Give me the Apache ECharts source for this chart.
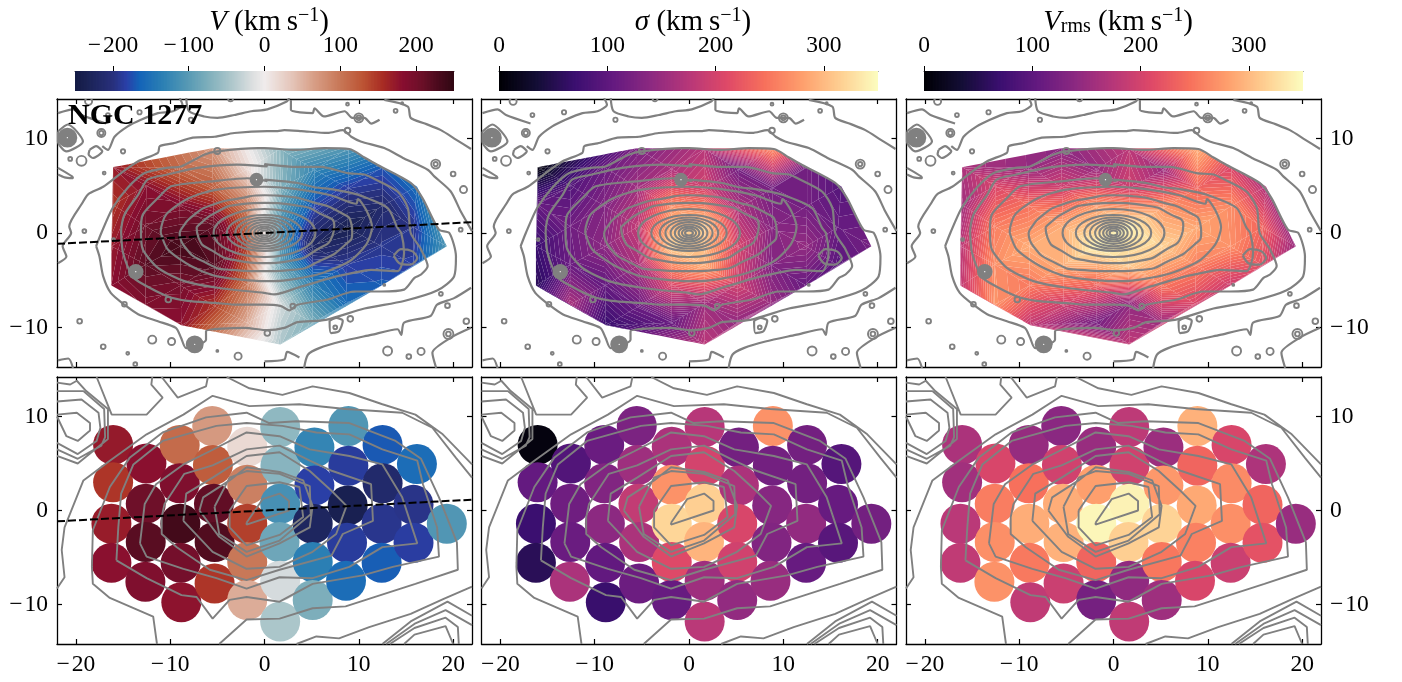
<!DOCTYPE html>
<html><head><meta charset="utf-8"><style>html,body{margin:0;background:#fff}#c{width:1402px;height:682px}</style>
<script src="https://cdn.jsdelivr.net/npm/echarts@6/dist/echarts.min.js"></script></head><body><div id="c"></div>
<script>
const binX=[-16.05,-16.05,-16.23,-16.23,-12.52,-12.59,-12.59,-12.63,-8.99,-8.99,-8.92,-8.89,-8.82,-5.54,-5.47,-5.36,-5.29,-5.29,-1.83,-1.83,-1.83,-1.83,-1.83,1.66,1.69,1.66,1.59,1.66,1.66,5.29,5.29,5.11,5.11,5.11,8.89,8.89,8.82,8.75,8.64,12.52,12.52,12.42,12.42,16.16,15.8,15.8,19.33];
const binY=[6.98,3.0,-1.41,-5.57,5.01,.71,-3.35,-7.58,6.98,2.89,-1.41,-5.57,-9.77,8.99,4.83,.71,-3.35,-7.76,6.77,2.75,-1.41,-5.47,-9.52,8.89,4.76,.71,-3.35,-7.48,-11.82,6.7,2.65,-1.41,-5.47,-9.52,8.99,4.76,.53,-3.42,-7.48,6.98,2.89,-1.41,-5.57,4.94,.6,-3.42,-1.41];
const velocity=[172,150,170,180,180,205,220,190,110,190,235,200,178,70,122,215,225,150,18,92,143,99,55,-63,-68,-113,-85,-20,-45,-128,-183,-225,-135,-75,-105,-187,-238,-187,-155,-170,-215,-193,-168,-155,-195,-185,-105];
const sigma=[8,105,70,55,90,115,110,165,110,130,140,103,68,125,155,185,165,112,165,270,320,210,108,175,200,315,295,155,178,118,165,205,197,145,270,118,135,130,150,118,118,145,108,92,108,95,118];
const vrms=[165,157,178,183,205,255,268,270,147,245,290,252,183,138,197,290,293,192,150,280,345,235,120,180,197,342,315,143,183,152,275,318,250,155,293,235,287,258,205,205,265,268,192,167,235,218,150];
const vStops=[[-250,'#141a44'],[-231,'#1c2458'],[-200,'#28307c'],[-182,'#2a40a8'],[-165,'#1464b8'],[-134,'#2c80b4'],[-103,'#5498b4'],[-73,'#80b0bc'],[-42,'#b0c8cc'],[-16,'#dcdfe0'],[0,'#f0ecec'],[37,'#e4c4b8'],[64,'#d8a088'],[99,'#c87858'],[130,'#bc5434'],[156,'#a82c24'],[182,'#880e30'],[209,'#6a1028'],[231,'#480a1c'],[250,'#300812']];
const magmaStops=[[0,'#000004'],[35,'#140e36'],[70,'#3b0f70'],[105,'#641a80'],[140,'#8c2981'],[175,'#b73779'],[210,'#de4968'],[245,'#f7705c'],[280,'#fe9f6d'],[315,'#fecf92'],[350,'#fcfdbf']];
const xTicks=[-20,-10,0,10,20], yTicks=[-10,0,10], vTicks=[-200,-100,0,100,200], sTicks=[0,100,200,300];
const paLine=[[-22,-1.15],[22,1.15]];
// contours of the upper row (arcsec)
const topOpen=[
[[-21.9,12.7],[-20.3,13.1],[-19.4,12.5],[-16.8,11.6]],
[[-17.2,9.2],[-16.6,8.8],[-15.9,10.2],[-14.5,11.3],[-13.1,12],[-11.3,12.7],[-9.7,12.9],[-8.7,13.6],[-9,14.3]],
[[-8.3,14.3],[-8,12.9],[-6.4,12.35],[-5,12.2],[-3.2,12.5],[-1.4,12.9],[.3,13.1],[2.3,13.9],[2.65,14.3]],
[[2.8,14.1],[2.8,13.05],[5.1,12.7],[5.3,13.2],[6.3,12.35],[8.5,12.9],[9.3,12.2],[10.6,12.2],[11.3,11.6],[12.2,12]],
[[12.7,14.1],[15.2,13.4],[15.5,12.2],[17,11.6],[18.7,10.9],[20.3,9.9],[21.9,8.9]],
[[-21.9,-3.2],[-21,-2.5],[-21.4,-1.4],[-20.5,0],[-20.7,.7],[-19.3,3.2],[-18.7,4.1],[-17.1,4.9],[-15.2,6.35],[-13.4,7.6],[-11.3,8.5],[-11.1,9.2],[-9.7,9.5],[-7.6,10.1],[-5.3,10.2],[-3.2,10.6],[.3,10.8],[1.4,10.8],[2.1,10.9],[3.9,10.8],[6.7,10.6],[8.3,10.9],[9.2,10.2],[10.2,9.7],[12.7,9],[14.8,7.9],[17.3,6.7],[18,6],[19.75,4.4],[20.8,2.3],[22,.2]],
[[21.9,-5.8],[20.1,-6.9],[18.3,-7.6],[17.6,-8.8],[14.8,-9.5],[14.5,-10.8],[14.1,-10.2],[11.3,-10.8],[8.1,-11.5],[5.8,-12.2],[4.6,-12.9],[4.2,-14.3]],
[[0,-13.6],[2.1,-13.4],[2.4,-12.6],[3.7,-13.2]],
[[18.2,-14.3],[17.8,-12.7],[19.75,-11.1],[21.9,-10.05]],
[[-21.9,6.9],[-20.4,6],[-20.3,5.8],[-21.2,5.9],[-21.9,6.2]],
[[-21.9,-13.5],[-20.8,-13.3],[-20.3,-14.3]]
];
const topClosed=[
[[-17.85,-1.4],[-17.5,-2.5],[-17.1,-4.6],[-16.3,-6.35],[-14.85,-7.6],[-13.4,-8.6],[-11.3,-9.35],[-9.4,-10.05],[-8.85,-11.1],[-8.3,-12.2],[-6.2,-11.3],[-6.2,-10.4],[-2.1,-10.05],[.3,-10.3],[2.1,-10.05],[3.5,-9.45],[6.5,-9.2],[10.6,-8],[14.8,-7.2],[18.3,-6.1],[20.1,-4.6],[20.3,-2.5],[19.6,0],[18.5,.35],[16.75,3.7],[15.5,5.3],[12,7.2],[10.6,8],[9,8.9],[6.35,9],[3.2,8.8],[0,9],[-.7,9],[-5,8.65],[-6.4,8.3],[-8.85,7.05],[-10.4,6.9],[-12.7,6.35],[-14.5,4.8],[-16.1,2.65],[-17.3,0]],
[[-15.2,0],[-15,-2.1],[-14,-4.6],[-13.1,-5.3],[-10.3,-6.7],[-8.15,-7.2],[-5.3,-7.4],[-2.85,-7.6],[-.05,-7.6],[1.75,-7.75],[2.65,-8.2],[3.5,-7.6],[6.7,-7.05],[9.5,-6.2],[12.35,-6.2],[14.8,-6],[15.9,-4.75],[16.6,-4.4],[17.3,-3.5],[16.6,-1.75],[15.5,0],[15.2,2.65],[14.1,4.4],[11.3,5.9],[10.6,6.2],[8.8,6.35],[6,7],[3.5,7],[0,7.3],[.3,7.05],[-2.85,7.25],[-7.1,6.9],[-10.3,6.2],[-12.4,5.65],[-13.4,4.05],[-14.85,1.95],[-15.2,.2]],
[[-13.1,0],[-12.9,-1.75],[-11.3,-3.7],[-8.5,-5.1],[-5,-5.8],[-.05,-6.35],[1.05,-6.5],[3.5,-5.8],[7.05,-4.75],[9.5,-4.2],[11.3,-3.9],[14.1,-4.05],[14.8,-2.1],[14.5,0],[14.1,.55],[13.05,2.65],[9.9,4.05],[7.4,4.6],[5.3,4.85],[3.5,5.3],[0,5.65],[.3,5.5],[-1.8,5.8],[-5.3,5.5],[-9.9,4.95],[-11.3,3.7],[-12.9,1.95],[-13.1,.2]],
[[-11,0],[-10.25,-1.75],[-7.8,-3.5],[-5,-4.6],[-.05,-5.1],[1,-5.1],[5.6,-4.4],[9,-3],[10.8,-1.2],[11.4,.6],[10.8,2.4],[9.9,3.6],[9.75,3.1],[7,4],[3,4.7],[0,4.9],[-5,4.6],[-8,3.7],[-10.4,2],[-11,.2]],
[[13.7,-2.4],[14.45,-1.7],[15.7,-1.95],[16.2,-2.65],[15.5,-3.35],[14.3,-3.2]],
[[-21.9,10.75],[-20.85,11.5],[-19.25,9.7],[-21,8.65],[-21.9,9.7]],
[[-18.55,8.8],[-17.85,9.2],[-17.2,8.65],[-18.2,7.95],[-18.65,8.35]],
[[6.9,-9.3],[7.05,-10.6],[7.9,-10.4],[8.3,-9.3],[7.6,-9]]
];
const topEllipses=[
[[-9,0],[-8.5,-1.4],[-6.1,-3.2],[-3.6,-3.9],[0,-4.05],[3,-3.9],[6,-2.9],[8.5,-1.3],[9.3,0],[9.2,1],[8,2.2],[5,3.3],[2,3.9],[0,4],[-2.5,3.7],[-5.5,3],[-7.5,1.9],[-8.7,.6]],
[[-7.2,.6],[-7,-.5],[-5.5,-1.9],[-3,-2.9],[0,-3.2],[3,-2.9],[5.5,-1.8],[7.2,-.3],[7.4,.8],[6,2],[3.5,2.9],[0,3.2],[-2.8,3],[-5.3,2.1],[-6.8,1]]
];
// nuclear isophotes: semi-axes along x and y (arcsec)
const nuclearRx=[5.4,4,3.1,2.5,1.95,1.5,1.1,.75,.42];
const nuclearRy=[2.55,1.9,1.65,1.4,1.15,.9,.68,.47,.27];
// small rings: x, y, diameter (arcsec)
const rings=[[-14.85,-7.55,.5],[-19.6,-9.35,.5],[-17.1,-12.05,.5],[-14.5,-12.75,.3],[-11.9,-11.3,.85],[-9.85,-11.5,.75],[-5,-12.5,.2],[-2.8,-13.05,.75],[-13.7,-13.9,.4],[-10.2,-7.05,.6],[-16,-.7,.3],[.3,-10.6,.6],[13.05,-12.5,.95],[15.3,-13.1,.5],[16.6,-12.55,.75],[19.5,-10.7,1.05],[19.5,-10.7,.5],[21.4,-9.35,.6],[19.4,-7.7,.5],[18.7,-6.45,.4],[9.1,-9.1,.6],[7.5,-10,.4],[12.7,-5.5,.2],[3,-7.75,.5],[10,12.2,.95],[10,12.2,.5],[8.8,13.65,.3],[13.9,12.95,.4],[14.6,13.75,.2],[8.8,10.85,.6],[18.15,7.3,.95],[18.15,7.3,.45],[20,6.25,.5],[21.1,4.6,.75],[20.8,.35,.4],[-18.65,13.95,.75],[-16.6,12.5,.4],[-13.25,12.8,.45],[-7.8,12,.45],[-17.3,10.6,.85],[-17.3,10.6,.45],[-15,8.65,.45],[-20.6,7.85,.4],[-19.4,7.65,1.05],[-17,6.35,.3],[-5,8.7,.65],[-19.1,.2,.4],[-3.6,14.2,.5]];
const stars=[[-20.9,10.1,2.1],[-.85,5.65,1.45],[-13.65,-4.1,1.65],[-7.4,-11.8,1.9]];
// contours of the lower row (arcsec)
const lowContours=[
[[-18.3,-6],[-18.2,-2.1],[-16.4,2.5],[-14.3,5.6],[-10.8,8.3],[-6.2,9.9],[-1.9,10.4],[.5,9.3],[3.4,9.5],[9,9.3],[13.9,7.4],[16.6,5.5],[18.5,1.4],[20.4,-3.4],[20.5,-6.3],[16,-7.8],[8.6,-10.2],[5.1,-10.4],[1.6,-11.5],[-1.9,-11.6],[-4.8,-14.2]],
[[-18.3,-6],[-18.2,-7.8],[-16.4,-9.3],[-11.8,-11.3],[-11.4,-14.2]],
[[-22,-8.3],[-21.2,-7.1],[-21.5,-4.2],[-21.2,-1.8],[-19.2,3.2],[-16.4,5.3],[-12.5,8.1],[-8.6,10.2],[-5.5,12.2],[-1.6,11.1],[3.7,11.3],[8.6,10.8],[14.6,10.4],[17.8,8.8],[20.3,5.6],[22,3.5]],
[[-4,14.2],[-1.6,13],[1.9,12.3],[5.1,13.2],[9,12.5],[12.5,11.3],[16,10.2],[18.9,8.1],[22,4.9]],
[[-15.7,-5.3],[-15.5,-1.8],[-15.2,1.8],[-13.9,4.9],[-10.8,7.4],[-5.1,9],[-1.9,9.3],[1.9,9],[5.5,8.3],[9,8.1],[12.5,6.5],[16.2,5.3],[16.8,2.8],[18.3,-1.8],[18.5,-4.9],[13.6,-6],[10.4,-6.9],[5.1,-7.8],[1.6,-9.7],[-1.9,-9.2],[-3.7,-9.5],[-5.5,-11.5],[-7.2,-9.2],[-8.8,-9],[-12.5,-7.2],[-15.7,-5.3]],
[[-13.2,-3.5],[-12.7,.7],[-11.5,2.8],[-8.6,4.9],[-5.8,6.3],[-1.9,8.3],[1.6,7.9],[4.8,6.5],[9,5.8],[12.5,4.9],[14.6,1.4],[16.2,-3.5],[12.5,-3.9],[9,-6],[5.1,-7.2],[1.6,-7.1],[-1.9,-8.3],[-5.1,-7.2],[-8.6,-6.2],[-12.5,-4.9],[-13.2,-3.5]],
[[-10.9,-.7],[-10.6,.7],[-8.5,3.9],[-5.5,4.8],[-1.9,6.5],[1.6,6.9],[4.8,5.3],[7.2,4.2],[11.3,2.8],[11.5,-1.1],[8.3,-2.5],[7.1,-4.8],[1.6,-6.3],[-1.9,-7.4],[-5.8,-6.3],[-9.3,-3.9],[-10.9,-2.5],[-10.9,-.7]],
[[-8.6,-1.1],[-8.3,1.8],[-5.5,3.5],[-1.9,5.8],[1.6,6.2],[4.8,4.2],[7.1,2.1],[8.7,.5],[7.6,-2.5],[5.1,-4.4],[1.6,-6],[-1.9,-6.2],[-5.5,-4.4],[-8.6,-1.1]],
[[-6.9,0],[-6.5,1.4],[-3.7,3.2],[-1.9,4.6],[1.6,4.1],[4.1,3.2],[5.1,.5],[4.8,-1.8],[1.6,-3.5],[-1.9,-4.9],[-4.8,-2.8],[-6.9,0]],
[[-5.3,.4],[-3.7,3.5],[-1.9,4.2],[1.6,3.9],[4.8,2.6],[4.9,-.4],[1.6,-3.2],[-1.9,-4.4],[-4.8,-2.5],[-5.3,.4]],
[[-3.7,0],[-1.9,2.6],[1.6,3],[3.7,2.5],[4.1,-.7],[1.6,-2.6],[-1.9,-3.7],[-3.7,-1.8],[-3.7,0]],
[[-1.9,-1.3],[-.2,1.2],[1.6,1.8],[2.6,1],[2.6,0],[-1.9,-1.5],[-1.9,-1.3]],
[[-22,10.2],[-19.9,10.4],[-18.5,9.3],[-18.5,8.5],[-19.8,7.4],[-21,7.9],[-22,10]],
[[-22,11.6],[-19.4,11.8],[-17.6,10.4],[-17.4,8.8],[-17.8,7.4],[-19.8,6],[-22,7.2]],
[[-22,12.7],[-19.2,12.7],[-17,10.8],[-16.9,7.8],[-17.3,6.9],[-19.8,5.5],[-22,6.5]],
[[-22,13.6],[-20.6,13.4],[-19.9,13.8],[-18.9,12.7],[-16.6,10.8],[-16.6,7.6],[-19.8,5],[-22,5.8]],
[[-17.8,14.2],[-16.2,10.2],[-12.5,10.2],[-10.8,12],[-12,13.4],[-11.9,14.2]],
[[-10.9,14.2],[-9.2,12],[-6.2,13.2],[-6,14.2]],
[[3.4,-14.2],[5.5,-13.4],[7.9,-13.6],[11.1,-12.4],[15.5,-11],[19,-9.4],[22,-8.1]],
[[12.5,-14.2],[15.5,-11.8],[19.4,-9.7],[22,-11.2]],
[[12.9,-14.2],[16,-12],[19.2,-10.6],[22,-12.2]],
[[13.3,-14.2],[15.9,-12.5],[19.2,-11.4],[20.5,-12.4],[20.6,-14.2]],
[[14.8,-14.2],[15.9,-13.2],[19.2,-12.3],[20,-14.2]]
];

const SERIF='"Liberation Serif","DejaVu Serif",serif', GRAY='#808080', NB=64;
function hex(c){return [1,3,5].map(i=>parseInt(c.substr(i,2),16));}
function cmap(stops,v){
  if(v<=stops[0][0])return stops[0][1];
  for(let i=1;i<stops.length;i++){if(v<=stops[i][0]){
    const t=(v-stops[i-1][0])/(stops[i][0]-stops[i-1][0]),a=hex(stops[i-1][1]),b=hex(stops[i][1]);
    return 'rgb('+a.map((x,j)=>Math.round(x+(b[j]-x)*t)).join(',')+')';}}
  return stops[stops.length-1][1];
}
// Delaunay triangulation of the bin centres
const triangles=[];
(function(){const n=binX.length;
for(let i=0;i<n;i++)for(let j=i+1;j<n;j++)for(let k=j+1;k<n;k++){
  const ax=binX[i],ay=binY[i],bx=binX[j],by=binY[j],cx=binX[k],cy=binY[k];
  const d=2*(ax*(by-cy)+bx*(cy-ay)+cx*(ay-by)); if(Math.abs(d)<1e-6)continue;
  const a2=ax*ax+ay*ay,b2=bx*bx+by*by,c2=cx*cx+cy*cy;
  const ux=(a2*(by-cy)+b2*(cy-ay)+c2*(ay-by))/d,uy=(a2*(cx-bx)+b2*(ax-cx)+c2*(bx-ax))/d;
  const r2=(ax-ux)**2+(ay-uy)**2; let ok=true;
  for(let m=0;m<n&&ok;m++){if(m===i||m===j||m===k)continue;
    if((binX[m]-ux)**2+(binY[m]-uy)**2<r2-1e-9)ok=false;}
  if(ok)triangles.push([i,j,k]);
}})();
function clipBand(poly,lev,above){const out=[];
  for(let i=0;i<poly.length;i++){const p=poly[i],q=poly[(i+1)%poly.length];
    const pi=above?p[2]>=lev:p[2]<=lev, qi=above?q[2]>=lev:q[2]<=lev;
    if(pi)out.push(p);
    if(pi!==qi){const t=(lev-p[2])/(q[2]-p[2]);out.push([p[0]+(q[0]-p[0])*t,p[1]+(q[1]-p[1])*t,lev]);}
  }return out;}
function mapSeries(vals,stops,lo,hi,xi,yi){
  const step=(hi-lo)/NB;
  return {type:'custom',coordinateSystem:'cartesian2d',xAxisIndex:xi,yAxisIndex:yi,silent:true,clip:true,z:2,animation:false,
    data:triangles.map((t,i)=>[i]),encode:{x:-1,y:-1},
    renderItem(p,api){
      const t=triangles[p.dataIndex],base=t.map(i=>[binX[i],binY[i],vals[i]]),children=[];
      const vs=base.map(b=>b[2]),mn=Math.min(...vs),mx=Math.max(...vs);
      const k0=Math.floor((mn-lo)/step),k1=Math.floor((mx-lo)/step);
      for(let k=k0;k<=k1;k++){
        const a=lo+k*step,b=a+step;
        let poly=clipBand(base,a,true); if(poly.length)poly=clipBand(poly,b,false);
        if(poly.length<3)continue;
        children.push({type:'polygon',silent:true,shape:{points:poly.map(q=>api.coord([q[0],q[1]]))},style:{fill:cmap(stops,a+step/2)}});
      }
      return {type:'group',children};
    }};
}
function joinLines(list,close){const out=[];
  list.forEach(l=>{l.forEach(q=>out.push(q));if(close)out.push(l[0]);out.push([null,null]);});return out;}
function lineSeries(data,xi,yi,smooth,w){return {type:'line',xAxisIndex:xi,yAxisIndex:yi,data,showSymbol:false,symbol:'none',smooth,connectNulls:false,silent:true,animation:false,z:4,clip:true,lineStyle:{color:GRAY,width:w}};}
function ringSeries(data,fill,xi,yi){return {type:'custom',coordinateSystem:'cartesian2d',xAxisIndex:xi,yAxisIndex:yi,silent:true,clip:true,z:5,animation:false,data:data.map((d,i)=>[i]),encode:{x:-1,y:-1},
  renderItem(p,api){const d=data[p.dataIndex],c=api.coord([d[0],d[1]]),r=api.size([d[2],0])[0]/2;
    return {type:'circle',shape:{cx:c[0],cy:c[1],r},style:fill?{fill,stroke:null}:{fill:'none',stroke:GRAY,lineWidth:1.9}};}};}
function nuclearSeries(xi,yi){return {type:'custom',coordinateSystem:'cartesian2d',xAxisIndex:xi,yAxisIndex:yi,silent:true,clip:true,z:4,animation:false,data:nuclearRx.map((d,i)=>[i]),encode:{x:-1,y:-1},
  renderItem(p,api){const c=api.coord([0,0]),s=api.size([nuclearRx[p.dataIndex],nuclearRy[p.dataIndex]]);
    return {type:'ellipse',shape:{cx:c[0],cy:c[1],rx:s[0],ry:s[1]},style:{fill:'none',stroke:GRAY,lineWidth:2.1}};}};}
function dashSeries(xi,yi){return {type:'line',xAxisIndex:xi,yAxisIndex:yi,data:paLine,showSymbol:false,symbol:'none',silent:true,animation:false,z:6,lineStyle:{color:'#000',width:2,type:[8,3]}};}

const fmt=v=>String(v).replace('-','\u2212\u200a');
const lblStyle={fontFamily:SERIF,fontSize:23.5,color:'#000',formatter:fmt};
const grids=[],xAxes=[],yAxes=[],series=[];
function panel(left,top,w,h,showL,showR,showB){
  const g=grids.length; grids.push({left,top,width:w,height:h,show:false,containLabel:false});
  const xi=xAxes.length,yi=yAxes.length;
  const line={onZero:false,show:true,lineStyle:{color:'#000',width:1.3}};
  const tick={show:true,inside:true,length:5,customValues:xTicks,lineStyle:{color:'#000',width:1.2}};
  const ytick=Object.assign({},tick,{customValues:yTicks});
  xAxes.push({type:'value',gridIndex:g,min:-22,max:22,position:'bottom',axisLine:line,axisTick:tick,splitLine:{show:false},
    axisLabel:Object.assign({show:showB,margin:9,customValues:xTicks},lblStyle)});
  xAxes.push({type:'value',gridIndex:g,min:-22,max:22,position:'top',axisLine:line,axisTick:tick,splitLine:{show:false},axisLabel:{show:false}});
  yAxes.push({type:'value',gridIndex:g,min:-14.2,max:14.2,position:'left',axisLine:line,axisTick:ytick,splitLine:{show:false},
    axisLabel:Object.assign({show:showL,margin:9,customValues:yTicks},lblStyle)});
  yAxes.push({type:'value',gridIndex:g,min:-14.2,max:14.2,position:'right',axisLine:line,axisTick:ytick,splitLine:{show:false},
    axisLabel:Object.assign({show:showR,margin:9,customValues:yTicks},lblStyle)});
  return [xi,yi];
}
function colorbar(left,lo,hi,stops,ticks){
  const g=grids.length; grids.push({left,top:71,width:379,height:20,show:false});
  const xi=xAxes.length,yi=yAxes.length,nc=256,step=(hi-lo)/nc;
  xAxes.push({type:'value',gridIndex:g,min:lo,max:hi,position:'top',axisLine:{onZero:false,show:true,lineStyle:{color:'#333',width:1}},
    axisTick:{show:true,inside:false,length:5,customValues:ticks,lineStyle:{color:'#000',width:1}},splitLine:{show:false},
    axisLabel:Object.assign({show:true,margin:13,customValues:ticks},lblStyle)});
  yAxes.push({type:'value',gridIndex:g,min:0,max:1,show:false});
  series.push({type:'custom',coordinateSystem:'cartesian2d',xAxisIndex:xi,yAxisIndex:yi,silent:true,animation:false,z:2,data:[[0]],encode:{x:-1,y:-1},
    renderItem(p,api){const ch=[];
      for(let k=0;k<nc;k++){const a=lo+k*step,p0=api.coord([a,1]),p1=api.coord([a+step,0]);
        ch.push({type:'rect',shape:{x:p0[0],y:p0[1],width:k<nc-1?p1[0]-p0[0]+1:p1[0]-p0[0],height:p1[1]-p0[1]},style:{fill:cmap(stops,a+step/2)}});}
      return {type:'group',children:ch};}});
}
const lefts=[57,481.5,906], cbLefts=[75,499,924];
const quantities=[[velocity,vStops,-250,250,vTicks],[sigma,magmaStops,0,350,sTicks],[vrms,magmaStops,0,350,sTicks]];
const topLines=joinLines(topOpen,false).concat(joinLines(topClosed,true)), ellLines=joinLines(topEllipses,true), botLines=joinLines(lowContours,false);
const starDots=stars.map(s=>[s[0],s[1],.14]);
quantities.forEach((q,i)=>{
  colorbar(cbLefts[i],q[2],q[3],q[1],q[4]);
  let a=panel(lefts[i],99,415,268,i===0,i===2,false);
  series.push(mapSeries(q[0],q[1],q[2],q[3],a[0],a[1]));
  series.push(lineSeries(topLines,a[0],a[1],0.25,2.2));
  series.push(lineSeries(ellLines,a[0],a[1],0.6,2.2));
  series.push(nuclearSeries(a[0],a[1]));
  series.push(ringSeries(rings,null,a[0],a[1]));
  series.push(ringSeries(stars,GRAY,a[0],a[1]));
  series.push(Object.assign(ringSeries(starDots,'#fff',a[0],a[1]),{z:6}));
  if(i===0)series.push(dashSeries(a[0],a[1]));
  a=panel(lefts[i],377,415,267,i===0,i===2,true);
  series.push({type:'scatter',xAxisIndex:a[0],yAxisIndex:a[1],symbol:'circle',symbolSize:40,silent:true,animation:false,z:2,
    data:binX.map((x,k)=>[x,binY[k],q[0][k]]),itemStyle:{opacity:1,color:p=>cmap(q[1],p.data[2])}});
  series.push(lineSeries(botLines,a[0],a[1],false,1.9));
  if(i===0)series.push(dashSeries(a[0],a[1]));
});
const base={fontFamily:SERIF,fontSize:29,color:'#000',fontWeight:'normal'};
const rich={i:Object.assign({},base,{fontStyle:'italic'}),t:base,
  s:Object.assign({},base,{fontSize:20,padding:[0,0,13,0]}),d:Object.assign({},base,{fontSize:20,padding:[8,0,0,0]})};
const titles=[[264,'{i|V}{t| (km\u2009s}{s|\u22121}{t|)}'],[688,'{i|\u03c3}{t| (km\u2009s}{s|\u22121}{t|)}'],[1113,'{i|V}{d|rms}{t| (km\u2009s}{s|\u22121}{t|)}']];
const title=titles.map(t=>({left:t[0],top:1,textAlign:'center',text:t[1],textStyle:{rich,fontFamily:SERIF,fontSize:29,fontWeight:'normal'}}));
title.push({left:63,top:96,text:'NGC 1277',textStyle:{fontFamily:SERIF,fontWeight:'bold',fontSize:30,color:'#000'}});
const chart=echarts.init(document.getElementById('c'),null,{renderer:'canvas'});
chart.setOption({animation:false,backgroundColor:'#fff',title,grid:grids,xAxis:xAxes,yAxis:yAxes,series});
</script></body></html>
